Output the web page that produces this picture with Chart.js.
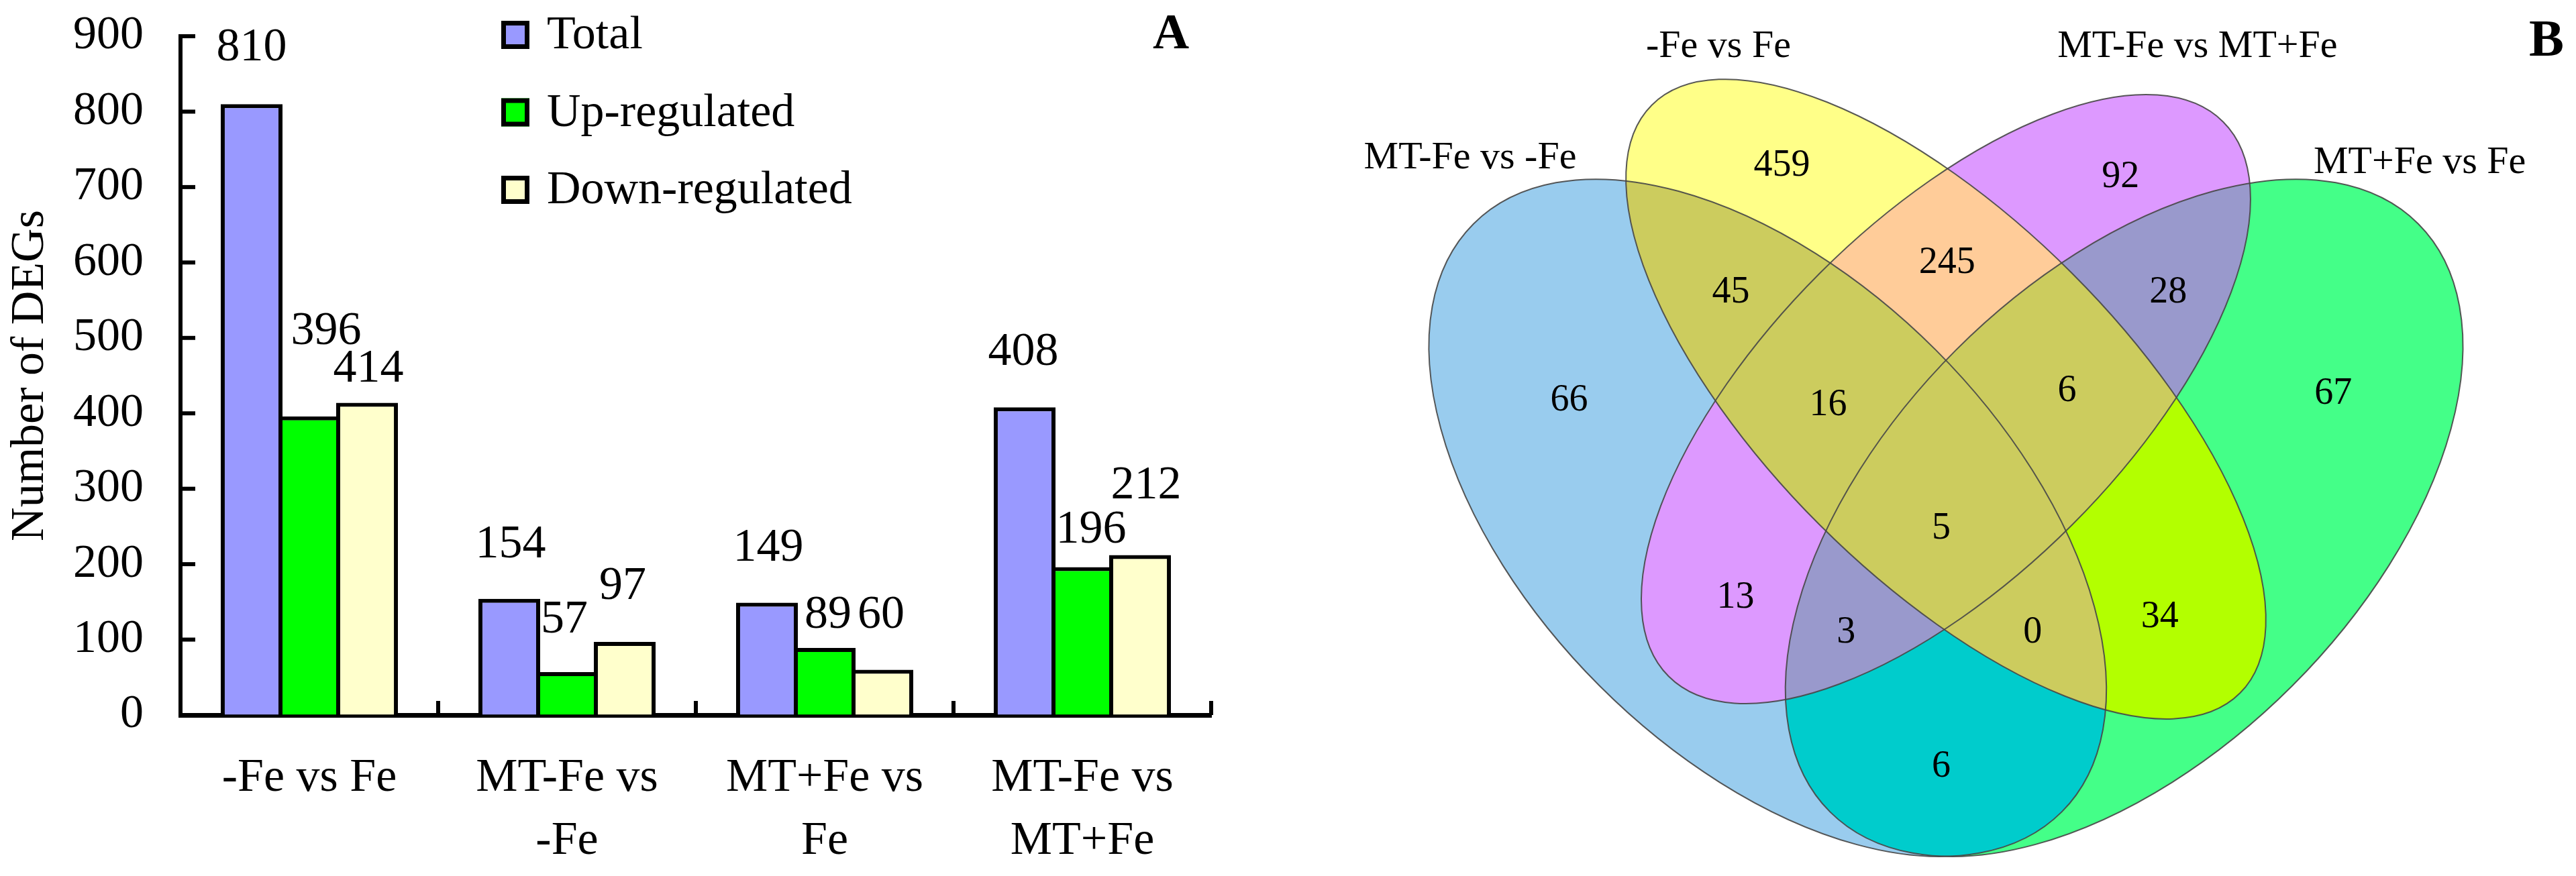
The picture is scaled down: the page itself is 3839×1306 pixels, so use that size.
<!DOCTYPE html>
<html><head><meta charset="utf-8">
<script src="https://cdn.jsdelivr.net/npm/chart.js@4.4.1/dist/chart.umd.min.js"></script>
<style>
html,body{margin:0;padding:0;background:#fff;width:3839px;height:1306px;overflow:hidden}
#barCanvas{position:absolute;left:0;top:0}
#vennCanvas{position:absolute;left:1900px;top:0}
</style></head><body>
<canvas id="barCanvas" width="1900" height="1306"></canvas>
<canvas id="vennCanvas" width="1939" height="1306"></canvas>
<script>
// ---------- DATA ----------
const categories = [['-Fe vs Fe'], ['MT-Fe vs', '-Fe'], ['MT+Fe vs', 'Fe'], ['MT-Fe vs', 'MT+Fe']];
const seriesNames = ['Total', 'Up-regulated', 'Down-regulated'];
const totalDEGs = [810, 154, 149, 408];
const upRegulated = [396, 57, 89, 196];
const downRegulated = [414, 97, 60, 212];
const yAxisMin = 0, yAxisMax = 900, yAxisStep = 100;
const yAxisTitle = 'Number of DEGs';

const vennSetNames = ['MT-Fe vs -Fe', '-Fe vs Fe', 'MT-Fe vs MT+Fe', 'MT+Fe vs Fe'];
// region membership (indices into vennSetNames) and gene counts
const vennRegions = [[0],[1],[2],[3],[0,1],[1,2],[2,3],[0,1,2],[1,2,3],[0,1,2,3],[0,2],[0,2,3],[0,1,3],[1,3],[0,3]];
const vennCounts  = [66, 459, 92, 67, 45, 245, 28, 16, 6, 5, 13, 3, 0, 34, 6];

// ---------- STYLE / LAYOUT ----------
const SERIF = '"Liberation Serif", "Times New Roman", serif';
const barColors = ['#9999FF', '#00FF00', '#FFFFCC'];
const labelNudges = [
  [[0,-88],[2,-85],[2,-85],[-2,-86]],
  [[25,-131],[-4,-82],[5,-53],[13,-60]],
  [[2,-54],[-3,-87],[-2,-86],[9,-108]]
];
// ellipse geometry in Venn units (x, y up), rot in canvas radians
const vennEllipses = [
  {cx:0.35, cy:0.47, a:0.35, b:0.20, rot: Math.PI/4},
  {cx:0.50, cy:0.57, a:0.35, b:0.15, rot: Math.PI/4},
  {cx:0.50, cy:0.57, a:0.33, b:0.15, rot:-Math.PI/4},
  {cx:0.65, cy:0.47, a:0.35, b:0.20, rot:-Math.PI/4}
];
const OLIVE = '#CCCC5E';
const vennRegionColors = ['#99CCEE','#FFFF88','#DD99FF','#44FF88',OLIVE,'#FFCC99','#9999CC',OLIVE,OLIVE,OLIVE,'#DD99FF','#9999CC',OLIVE,'#B3FF00','#00CCCC'];
const vennCountPos = [[0.183,0.571],[0.362,0.769],[0.647,0.759],[0.826,0.577],[0.319,0.662],[0.501,0.687],[0.687,0.662],[0.401,0.567],[0.602,0.579],[0.496,0.463],[0.323,0.405],[0.416,0.376],[0.573,0.376],[0.680,0.389],[0.496,0.263]];
const vennSetLabelPos = [[0.0997,0.7761],[0.3086,0.8696],[0.7117,0.8696],[0.8987,0.7721]];

// ---------- BAR CHART ----------
const barDecor = {
  id: 'barDecor',
  afterDraw(chart) {
    const ctx = chart.ctx, xs = chart.scales.x, ys = chart.scales.y, ca = chart.chartArea;
    ctx.save();
    ctx.strokeStyle = '#000';
    ctx.lineWidth = 6;
    // inward y ticks
    for (let v = yAxisMin; v <= yAxisMax; v += yAxisStep) {
      const y = ys.getPixelForValue(v);
      ctx.beginPath(); ctx.moveTo(ca.left, y); ctx.lineTo(ca.left + 22, y); ctx.stroke();
    }
    // inward category boundary ticks
    const n = categories.length;
    for (let i = 1; i <= n; i++) {
      const x = ca.left + (ca.right - ca.left) * i / n;
      ctx.beginPath(); ctx.moveTo(x, ca.bottom); ctx.lineTo(x, ca.bottom - 21); ctx.stroke();
    }
    // value labels
    ctx.fillStyle = '#000';
    ctx.font = '70px ' + SERIF;
    ctx.textAlign = 'center';
    ctx.textBaseline = 'alphabetic';
    chart.data.datasets.forEach((ds, di) => {
      const meta = chart.getDatasetMeta(di);
      meta.data.forEach((bar, j) => {
        const nd = labelNudges[di][j];
        ctx.fillText(String(ds.data[j]), bar.x + nd[0], bar.y + nd[1] + 23);
      });
    });
    // legend
    const lx = 747, ltop = 31, gap = 115.5, bs = 42;
    chart.data.datasets.forEach((ds, di) => {
      const top = ltop + di * gap;
      ctx.fillStyle = ds.backgroundColor;
      ctx.fillRect(lx, top, bs, bs);
      ctx.lineWidth = 7;
      ctx.strokeStyle = '#000';
      ctx.strokeRect(lx + 3.5, top + 3.5, bs - 7, bs - 7);
      ctx.fillStyle = '#000';
      ctx.textAlign = 'left';
      ctx.fillText(ds.label, 815, top + bs / 2 + 20);
    });
    // panel letter
    ctx.font = 'bold 75px ' + SERIF;
    ctx.textAlign = 'center';
    ctx.fillText('A', 1745, 72);
    ctx.restore();
  }
};

new Chart(document.getElementById('barCanvas'), {
  type: 'bar',
  data: {
    labels: categories,
    datasets: [
      {label: seriesNames[0], data: totalDEGs, backgroundColor: barColors[0]},
      {label: seriesNames[1], data: upRegulated, backgroundColor: barColors[1]},
      {label: seriesNames[2], data: downRegulated, backgroundColor: barColors[2]}
    ]
  },
  options: {
    responsive: false, devicePixelRatio: 1, animation: false, events: [],
    layout: {padding: {top: 54, right: 95, left: 0, bottom: 0}},
    plugins: {legend: {display: false}, tooltip: {enabled: false}},
    datasets: {bar: {categoryPercentage: 0.672, barPercentage: 1.07, borderColor: '#000', borderWidth: 6, borderSkipped: 'bottom'}},
    scales: {
      x: {
        grid: {display: true, drawOnChartArea: false, drawTicks: false},
        border: {display: true, color: '#000', width: 7},
        ticks: {font: {family: SERIF, size: 70, lineHeight: 1.34}, color: '#000', padding: 48, maxRotation: 0, autoSkip: false},
        afterFit: s => { s.height = 240; s.paddingLeft = 0; s.paddingRight = 0; }
      },
      y: {
        min: yAxisMin, max: yAxisMax,
        grid: {display: true, drawOnChartArea: false, drawTicks: false},
        border: {display: true, color: '#000', width: 6},
        ticks: {stepSize: yAxisStep, font: {family: SERIF, size: 70}, color: '#000', padding: 55},
        title: {display: true, text: yAxisTitle, font: {family: SERIF, size: 70}, color: '#000', padding: {top: 4, bottom: 0}},
        afterFit: s => { s.width = 269; s.paddingTop = 0; s.paddingBottom = 0; }
      }
    }
  },
  plugins: [barDecor]
});

// ---------- VENN ----------
const vennDraw = {
  id: 'vennDraw',
  beforeDatasetsDraw(chart) {
    const ctx = chart.ctx, xs = chart.scales.x, ys = chart.scales.y;
    const W = chart.width, H = chart.height;
    const ux = xs.getPixelForValue(1) - xs.getPixelForValue(0);
    const uy = ys.getPixelForValue(0) - ys.getPixelForValue(1);
    const geo = e => ({x: xs.getPixelForValue(e.cx), y: ys.getPixelForValue(e.cy), a: e.a * ux, b: e.b * uy, r: e.rot});
    const addEllipse = g => {
      ctx.moveTo(g.x + g.a * Math.cos(g.r), g.y + g.a * Math.sin(g.r));
      ctx.ellipse(g.x, g.y, g.a, g.b, g.r, 0, Math.PI * 2);
    };
    const G = vennEllipses.map(geo);
    ctx.save();
    vennRegions.forEach((mem, i) => {
      ctx.save();
      for (let s = 0; s < G.length; s++) {
        ctx.beginPath();
        if (mem.includes(s)) { addEllipse(G[s]); ctx.clip(); }
        else { ctx.rect(-10, -10, W + 20, H + 20); addEllipse(G[s]); ctx.clip('evenodd'); }
      }
      ctx.fillStyle = vennRegionColors[i];
      ctx.fillRect(0, 0, W, H);
      ctx.restore();
    });
    ctx.strokeStyle = 'rgba(70,70,70,0.9)';
    ctx.lineWidth = 2;
    G.forEach(g => { ctx.beginPath(); addEllipse(g); ctx.stroke(); });
    ctx.fillStyle = '#000';
    ctx.textAlign = 'center';
    ctx.textBaseline = 'alphabetic';
    ctx.font = '56px ' + SERIF;
    vennCounts.forEach((c, i) => {
      const p = vennCountPos[i];
      ctx.fillText(String(c), xs.getPixelForValue(p[0]), ys.getPixelForValue(p[1]) + 19);
    });
    ctx.font = '58px ' + SERIF;
    vennSetNames.forEach((n, i) => {
      const p = vennSetLabelPos[i];
      ctx.fillText(n, xs.getPixelForValue(p[0]), ys.getPixelForValue(p[1]) + 21);
    });
    ctx.font = 'bold 78px ' + SERIF;
    ctx.fillText('B', 1895, 83);
    ctx.restore();
  }
};

new Chart(document.getElementById('vennCanvas'), {
  type: 'scatter',
  data: {datasets: [{data: [], pointRadius: 0}]},
  options: {
    responsive: false, devicePixelRatio: 1, animation: false, events: [],
    layout: {padding: 0},
    plugins: {legend: {display: false}, tooltip: {enabled: false}},
    scales: {
      x: {type: 'linear', min: -0.0646, max: 1.0302, display: false},
      y: {type: 'linear', min: 0.1685, max: 0.906, display: false}
    }
  },
  plugins: [vennDraw]
});
</script>
</body></html>
